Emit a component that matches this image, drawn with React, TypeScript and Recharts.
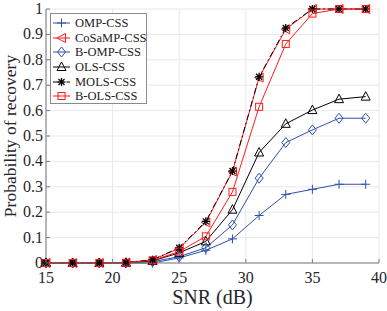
import React from "react";
import { LineChart, Line, XAxis, YAxis, CartesianGrid, Label } from "recharts";

const snr = [15, 17, 19, 21, 23, 25, 27, 29, 31, 33, 35, 37, 39];
const omp = [0, 0, 0, 0, 0, 0.02, 0.05, 0.095, 0.187, 0.27, 0.29, 0.31, 0.31];
const cosamp = [0, 0, 0, 0.002, 0.012, 0.058, 0.16, 0.36, 0.73, 0.92, 1, 1, 1];
const bomp = [0, 0, 0, 0, 0.005, 0.025, 0.06, 0.15, 0.334, 0.474, 0.524, 0.57, 0.57];
const ols = [0, 0, 0, 0.001, 0.008, 0.04, 0.085, 0.21, 0.435, 0.548, 0.602, 0.645, 0.655];
const mols = [0, 0, 0, 0.002, 0.013, 0.06, 0.164, 0.362, 0.733, 0.925, 1, 1, 1];
const bols = [0, 0, 0, 0.001, 0.01, 0.045, 0.105, 0.28, 0.615, 0.862, 0.982, 1, 1];

const xTicks = [15, 20, 25, 30, 35, 40];
const yTicks = [0, 0.1, 0.2, 0.3, 0.4, 0.5, 0.6, 0.7, 0.8, 0.9, 1];

const BLUE = "#2e4fae";
const RED = "#ff1a1a";
const BLACK = "#000000";
const FONT = "Liberation Serif, Times New Roman, Times, DejaVu Serif, serif";
const AXIS = "#7a7a7a";

type Shape = "plus" | "left" | "diamond" | "up" | "star" | "square";

const series: { key: string; name: string; values: number[]; color: string; shape: Shape; dash?: string }[] = [
  { key: "omp", name: "OMP-CSS", values: omp, color: BLUE, shape: "plus" },
  { key: "cosamp", name: "CoSaMP-CSS", values: cosamp, color: RED, shape: "left" },
  { key: "bomp", name: "B-OMP-CSS", values: bomp, color: BLUE, shape: "diamond" },
  { key: "ols", name: "OLS-CSS", values: ols, color: BLACK, shape: "up" },
  { key: "mols", name: "MOLS-CSS", values: mols, color: BLACK, shape: "star", dash: "6 3 1.5 3" },
  { key: "bols", name: "B-OLS-CSS", values: bols, color: RED, shape: "square" },
];

const data = snr.map((x, i) => {
  const row: Record<string, number> = { snr: x };
  series.forEach((s) => (row[s.key] = s.values[i]));
  return row;
});

function Marker({ cx, cy, shape, color }: { cx: number; cy: number; shape: Shape; color: string }) {
  const p = { stroke: color, strokeWidth: 1, fill: "none" };
  switch (shape) {
    case "plus":
      return (
        <g {...p}>
          <line x1={cx - 4.5} y1={cy} x2={cx + 4.5} y2={cy} />
          <line x1={cx} y1={cy - 4.5} x2={cx} y2={cy + 4.5} />
        </g>
      );
    case "left":
      return <polygon {...p} points={`${cx - 4.5},${cy} ${cx + 4},${cy - 4.5} ${cx + 4},${cy + 4.5}`} />;
    case "diamond":
      return <polygon {...p} points={`${cx},${cy - 5} ${cx + 4},${cy} ${cx},${cy + 5} ${cx - 4},${cy}`} />;
    case "up":
      return <polygon {...p} points={`${cx},${cy - 5} ${cx + 4.5},${cy + 3.5} ${cx - 4.5},${cy + 3.5}`} />;
    case "square":
      return <rect {...p} x={cx - 3.5} y={cy - 3.5} width={7} height={7} />;
    case "star":
      return (
        <g {...p} strokeWidth={1.3}>
          <line x1={cx - 4} y1={cy} x2={cx + 4} y2={cy} />
          <line x1={cx} y1={cy - 4} x2={cx} y2={cy + 4} />
          <line x1={cx - 3} y1={cy - 3} x2={cx + 3} y2={cy + 3} />
          <line x1={cx - 3} y1={cy + 3} x2={cx + 3} y2={cy - 3} />
        </g>
      );
  }
  return null;
}

const fmtY = (v: number) => (v === 0 ? "0" : v === 1 ? "1" : v.toFixed(1));

const BottomTick = (props: any) => {
  const { x, y, payload } = props;
  return (
    <g>
      <line x1={x} y1={y} x2={x} y2={y - 4} stroke={AXIS} />
      <text x={x} y={y + 20} textAnchor="middle" fontFamily={FONT} fontSize={16} fill="#262626">
        {payload.value}
      </text>
    </g>
  );
};

const LeftTick = (props: any) => {
  const { x, y, payload } = props;
  return (
    <g>
      <line x1={x} y1={y} x2={x + 4} y2={y} stroke={AXIS} />
      <text x={x - 3} y={y + 5} textAnchor="end" fontFamily={FONT} fontSize={16} fill="#262626">
        {fmtY(payload.value)}
      </text>
    </g>
  );
};

const TopTick = (props: any) => {
  const { x, y } = props;
  return <line x1={x} y1={y} x2={x} y2={y + 4} stroke={AXIS} />;
};

const RightTick = (props: any) => {
  const { x, y } = props;
  return <line x1={x} y1={y} x2={x - 4} y2={y} stroke={AXIS} />;
};

function LegendBox() {
  return (
    <div
      style={{
        position: "absolute",
        left: 50,
        top: 13,
        width: 97,
        height: 91,
        border: "1px solid #8a8a8a",
        background: "#fff",
        boxSizing: "border-box",
        paddingTop: 2,
      }}
    >
      {series.map((s) => (
        <div key={s.key} style={{ display: "flex", alignItems: "center", height: 14.6 }}>
          <svg width={20} height={14} style={{ marginLeft: 1, flex: "none" }}>
            <line x1={1} y1={7} x2={18} y2={7} stroke={s.color} strokeWidth={1} strokeDasharray={s.dash} />
            <Marker cx={9.5} cy={7} shape={s.shape} color={s.color} />
          </svg>
          <span style={{ fontFamily: FONT, fontSize: 12.5, color: "#222", marginLeft: 3, lineHeight: "14px", whiteSpace: "nowrap" }}>
            {s.name}
          </span>
        </div>
      ))}
    </div>
  );
}

export default function App() {
  return (
    <div style={{ position: "absolute", left: 0, top: 0, width: 387, height: 311, background: "#fff" }}>
      <LineChart width={387} height={311} data={data} margin={{ top: 9, right: 8, left: 0, bottom: 0 }}>
        <CartesianGrid stroke="#e8e8e8" strokeWidth={1} />
        <XAxis
          dataKey="snr"
          type="number"
          domain={[15, 40]}
          ticks={xTicks}
          height={48}
          tickSize={0}
          tickMargin={0}
          tickLine={false}
          axisLine={{ stroke: AXIS }}
          tick={<BottomTick />}
          interval={0}
        >
          <Label
            content={(p: any) => {
              const vb = p.viewBox;
              return (
                <text x={vb.x + vb.width / 2} y={vb.y + 41} textAnchor="middle" fontFamily={FONT} fontSize={20} fill="#262626">
                  SNR (dB)
                </text>
              );
            }}
          />
        </XAxis>
        <XAxis
          xAxisId="top"
          dataKey="snr"
          type="number"
          orientation="top"
          domain={[15, 40]}
          ticks={xTicks}
          height={0}
          tickSize={0}
          tickMargin={0}
          tickLine={false}
          axisLine={{ stroke: AXIS }}
          tick={<TopTick />}
          interval={0}
        />
        <YAxis
          type="number"
          domain={[0, 1]}
          ticks={yTicks}
          width={46}
          tickSize={0}
          tickMargin={0}
          tickLine={false}
          axisLine={{ stroke: AXIS }}
          tick={<LeftTick />}
          interval={0}
        >
          <Label
            content={(p: any) => {
              const vb = p.viewBox;
              const cx = 16;
              const cy = vb.y + vb.height / 2;
              return (
                <text
                  x={cx}
                  y={cy}
                  transform={`rotate(-90 ${cx} ${cy})`}
                  textAnchor="middle"
                  fontFamily={FONT}
                  fontSize={17.5}
                  fill="#262626"
                >
                  Probability of recovery
                </text>
              );
            }}
          />
        </YAxis>
        <YAxis
          yAxisId="right"
          orientation="right"
          type="number"
          domain={[0, 1]}
          ticks={yTicks}
          width={0}
          tickSize={0}
          tickMargin={0}
          tickLine={false}
          axisLine={{ stroke: AXIS }}
          tick={<RightTick />}
          interval={0}
        />
        {series.map((s) => (
          <Line
            key={s.key}
            dataKey={s.key}
            name={s.name}
            stroke={s.color}
            strokeWidth={1}
            strokeDasharray={s.dash}
            isAnimationActive={false}
            type="linear"
            dot={(d: any) => <Marker key={`${s.key}-${d.index}`} cx={d.cx} cy={d.cy} shape={s.shape} color={s.color} />}
            activeDot={false}
          />
        ))}
      </LineChart>
      <LegendBox />
    </div>
  );
}
